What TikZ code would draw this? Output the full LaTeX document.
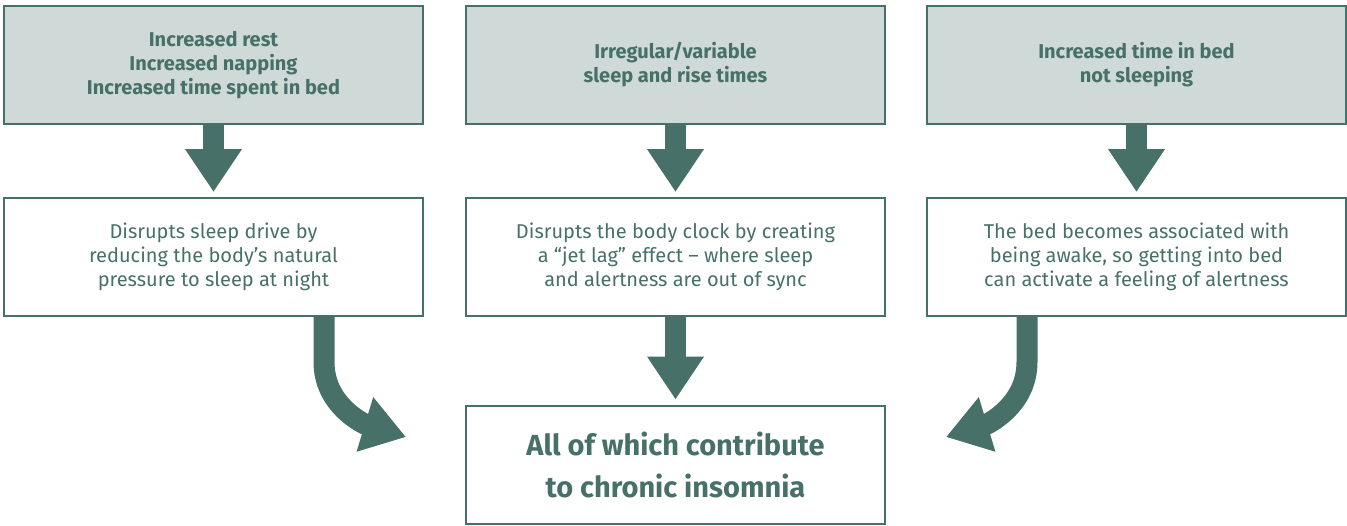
\documentclass[tikz,border=0pt]{standalone}
\usepackage{fontspec}
\setmainfont{Fira Sans}
\usetikzlibrary{arrows.meta}
\definecolor{slate}{HTML}{477069}
\definecolor{mist}{HTML}{CFD9D7}
\tikzset{
  box/.style={draw=slate, line width=2pt, minimum width=419pt, minimum height=118pt,
    align=center, text=slate, inner sep=0pt},
  cause/.style={box, fill=mist, font=\bfseries\fontsize{20}{24}\selectfont},
  effect/.style={box, font=\fontsize{20}{24}\selectfont},
  fat/.style={draw=slate, line width=21pt, -{Triangle[length=43pt,width=54pt]}}
}
\begin{document}
\begin{tikzpicture}[x=1pt,y=1pt]
  \useasboundingbox (0,0) rectangle (1347,-525);
  % causes
  \node[cause] (c1) at (213.5,-65) {Increased rest\\Increased napping\\Increased time spent in bed};
  \node[cause] (c2) at (675.5,-65) {Irregular/variable\\sleep and rise times};
  \node[cause] (c3) at (1136.5,-65) {Increased time in bed\\not sleeping};
  % effects
  \node[effect] (e1) at (213.5,-257) {Disrupts sleep drive by\\reducing the body’s natural\\pressure to sleep at night};
  \node[effect] (e2) at (675.5,-257) {Disrupts the body clock by creating\\a “jet lag” effect -- where sleep\\and alertness are out of sync};
  \node[effect] (e3) at (1136.5,-257) {The bed becomes associated with\\being awake, so getting into bed\\can activate a feeling of alertness};
  % result
  \node[box, font=\bfseries\fontsize{29}{42}\selectfont] (res) at (675.5,-464.5) {All of which contribute\\to chronic insomnia};
  \coordinate (tipL) at ([xshift=-59pt,yshift=27.5pt]res.west);
  \coordinate (tipR) at ([xshift=60pt,yshift=27.5pt]res.east);
  % arrows
  \draw[fat, shorten >=5pt] (c1) -- (e1);
  \draw[fat, shorten >=5pt] (c2) -- (e2);
  \draw[fat, shorten >=5pt] (c3) -- (e3);
  \draw[fat, shorten >=5pt] (e2) -- (res);
  \draw[fat] ([xshift=110.5pt]e1.south) -- ++(0,-45) to[out=-90,in=163] (tipL);
  \draw[fat] ([xshift=-109.5pt]e3.south) -- ++(0,-45) to[out=-90,in=17] (tipR);
\end{tikzpicture}
\end{document}
